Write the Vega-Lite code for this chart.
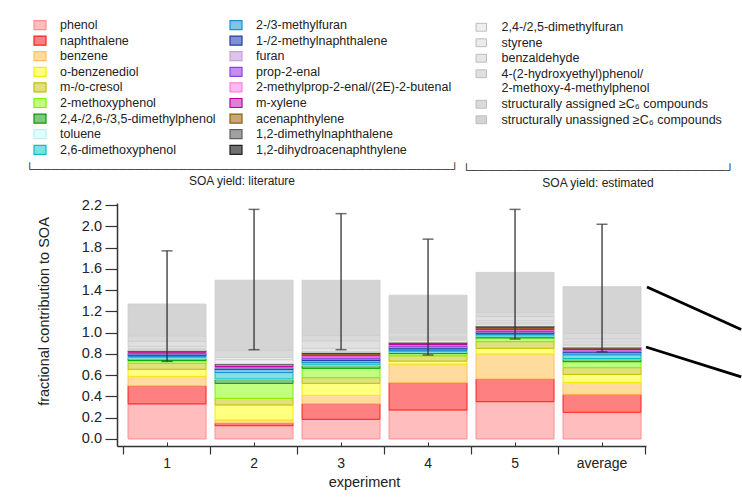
{
  "$schema": "https://vega.github.io/schema/vega-lite/v6.json",
  "width": 529,
  "height": 243,
  "autosize": {"type": "none"},
  "padding": {"left": 117, "top": 203, "right": 96, "bottom": 52},
  "background": "white",
  "config": {
    "view": {"stroke": null},
    "font": "Liberation Sans",
    "axis": {"labelFont": "Liberation Sans", "titleFont": "Liberation Sans", "domainColor": "#333", "tickColor": "#333", "labelColor": "#222", "titleColor": "#222", "grid": false, "titleFontWeight": "normal"},
    "legend": {"labelFont": "Liberation Sans", "titleFont": "Liberation Sans", "labelColor": "#222", "titleColor": "#222", "padding": 0, "labelLimit": 400, "titleLimit": 1000}
  },
  "datasets": {
    "comp": [
      {"c": "ph", "name": "phenol", "k": 1, "g": "lit"},
      {"c": "na", "name": "naphthalene", "k": 2, "g": "lit"},
      {"c": "bz", "name": "benzene", "k": 3, "g": "lit"},
      {"c": "obd", "name": "o-benzenediol", "k": 4, "g": "lit"},
      {"c": "cr", "name": "m-/o-cresol", "k": 5, "g": "lit"},
      {"c": "mp", "name": "2-methoxyphenol", "k": 6, "g": "lit"},
      {"c": "dmp", "name": "2,4-/2,6-/3,5-dimethylphenol", "k": 7, "g": "lit"},
      {"c": "tol", "name": "toluene", "k": 8, "g": "lit"},
      {"c": "dmop", "name": "2,6-dimethoxyphenol", "k": 9, "g": "lit"},
      {"c": "mf", "name": "2-/3-methylfuran", "k": 10, "g": "lit"},
      {"c": "mn", "name": "1-/2-methylnaphthalene", "k": 11, "g": "lit"},
      {"c": "fu", "name": "furan", "k": 12, "g": "lit"},
      {"c": "pr", "name": "prop-2-enal", "k": 13, "g": "lit"},
      {"c": "mpr", "name": "2-methylprop-2-enal/(2E)-2-butenal", "k": 14, "g": "lit"},
      {"c": "mx", "name": "m-xylene", "k": 15, "g": "lit"},
      {"c": "ac", "name": "acenaphthylene", "k": 16, "g": "lit"},
      {"c": "dmn", "name": "1,2-dimethylnaphthalene", "k": 17, "g": "lit"},
      {"c": "dha", "name": "1,2-dihydroacenaphthylene", "k": 18, "g": "lit"},
      {"c": "dmf", "name": "2,4-/2,5-dimethylfuran", "k": 19, "g": "est"},
      {"c": "sty", "name": "styrene", "k": 20, "g": "est"},
      {"c": "bza", "name": "benzaldehyde", "k": 21, "g": "est"},
      {"c": "hep", "name": "4-(2-hydroxyethyl)phenol/2-methoxy-4-methylphenol", "k": 22, "g": "est"},
      {"c": "sa", "name": "structurally assigned ≥C₆ compounds", "k": 23, "g": "est"},
      {"c": "su", "name": "structurally unassigned ≥C₆ compounds", "k": 24, "g": "est"}
    ],
    "yield": [
      {"e": "1", "c": "ph", "v": 0.33}, {"e": "1", "c": "na", "v": 0.17}, {"e": "1", "c": "bz", "v": 0.09}, {"e": "1", "c": "obd", "v": 0.066}, {"e": "1", "c": "cr", "v": 0.056}, {"e": "1", "c": "mp", "v": 0.025}, {"e": "1", "c": "dmp", "v": 0.022}, {"e": "1", "c": "tol", "v": 0.005}, {"e": "1", "c": "dmop", "v": 0.012}, {"e": "1", "c": "mf", "v": 0.012}, {"e": "1", "c": "mn", "v": 0.012}, {"e": "1", "c": "fu", "v": 0.004}, {"e": "1", "c": "pr", "v": 0.008}, {"e": "1", "c": "mpr", "v": 0.004}, {"e": "1", "c": "mx", "v": 0.006}, {"e": "1", "c": "ac", "v": 0.005}, {"e": "1", "c": "dmn", "v": 0.002}, {"e": "1", "c": "dha", "v": 0.001}, {"e": "1", "c": "dmf", "v": 0.01}, {"e": "1", "c": "sty", "v": 0.01}, {"e": "1", "c": "bza", "v": 0.02}, {"e": "1", "c": "hep", "v": 0.05}, {"e": "1", "c": "sa", "v": 0.05}, {"e": "1", "c": "su", "v": 0.30},
      {"e": "2", "c": "ph", "v": 0.125}, {"e": "2", "c": "na", "v": 0.025}, {"e": "2", "c": "bz", "v": 0.03}, {"e": "2", "c": "obd", "v": 0.14}, {"e": "2", "c": "cr", "v": 0.063}, {"e": "2", "c": "mp", "v": 0.14}, {"e": "2", "c": "dmp", "v": 0.037}, {"e": "2", "c": "tol", "v": 0.005}, {"e": "2", "c": "dmop", "v": 0.06}, {"e": "2", "c": "mf", "v": 0.03}, {"e": "2", "c": "mn", "v": 0.012}, {"e": "2", "c": "fu", "v": 0.005}, {"e": "2", "c": "pr", "v": 0.005}, {"e": "2", "c": "mpr", "v": 0.005}, {"e": "2", "c": "mx", "v": 0.02}, {"e": "2", "c": "ac", "v": 0.002}, {"e": "2", "c": "dmn", "v": 0.001}, {"e": "2", "c": "dha", "v": 0.001}, {"e": "2", "c": "dmf", "v": 0.04}, {"e": "2", "c": "sty", "v": 0.023}, {"e": "2", "c": "sa", "v": 0.065}, {"e": "2", "c": "su", "v": 0.66},
      {"e": "3", "c": "ph", "v": 0.185}, {"e": "3", "c": "na", "v": 0.147}, {"e": "3", "c": "bz", "v": 0.079}, {"e": "3", "c": "obd", "v": 0.113}, {"e": "3", "c": "cr", "v": 0.053}, {"e": "3", "c": "mp", "v": 0.088}, {"e": "3", "c": "dmp", "v": 0.028}, {"e": "3", "c": "tol", "v": 0.005}, {"e": "3", "c": "dmop", "v": 0.02}, {"e": "3", "c": "mf", "v": 0.02}, {"e": "3", "c": "mn", "v": 0.015}, {"e": "3", "c": "fu", "v": 0.005}, {"e": "3", "c": "pr", "v": 0.02}, {"e": "3", "c": "mpr", "v": 0.005}, {"e": "3", "c": "mx", "v": 0.01}, {"e": "3", "c": "ac", "v": 0.01}, {"e": "3", "c": "dmn", "v": 0.005}, {"e": "3", "c": "dha", "v": 0.005}, {"e": "3", "c": "dmf", "v": 0.005}, {"e": "3", "c": "sty", "v": 0.005}, {"e": "3", "c": "bza", "v": 0.03}, {"e": "3", "c": "hep", "v": 0.07}, {"e": "3", "c": "sa", "v": 0.05}, {"e": "3", "c": "su", "v": 0.52},
      {"e": "4", "c": "ph", "v": 0.273}, {"e": "4", "c": "na", "v": 0.257}, {"e": "4", "c": "bz", "v": 0.175}, {"e": "4", "c": "obd", "v": 0.028}, {"e": "4", "c": "cr", "v": 0.05}, {"e": "4", "c": "mp", "v": 0.02}, {"e": "4", "c": "dmp", "v": 0.013}, {"e": "4", "c": "tol", "v": 0.005}, {"e": "4", "c": "dmop", "v": 0.012}, {"e": "4", "c": "mf", "v": 0.015}, {"e": "4", "c": "mn", "v": 0.015}, {"e": "4", "c": "fu", "v": 0.005}, {"e": "4", "c": "pr", "v": 0.015}, {"e": "4", "c": "mpr", "v": 0.005}, {"e": "4", "c": "mx", "v": 0.01}, {"e": "4", "c": "ac", "v": 0.005}, {"e": "4", "c": "dmn", "v": 0.003}, {"e": "4", "c": "dha", "v": 0.003}, {"e": "4", "c": "dmf", "v": 0.02}, {"e": "4", "c": "sty", "v": 0.01}, {"e": "4", "c": "bza", "v": 0.01}, {"e": "4", "c": "hep", "v": 0.01}, {"e": "4", "c": "sa", "v": 0.04}, {"e": "4", "c": "su", "v": 0.354},
      {"e": "5", "c": "ph", "v": 0.351}, {"e": "5", "c": "na", "v": 0.214}, {"e": "5", "c": "bz", "v": 0.235}, {"e": "5", "c": "obd", "v": 0.053}, {"e": "5", "c": "cr", "v": 0.063}, {"e": "5", "c": "mp", "v": 0.035}, {"e": "5", "c": "dmp", "v": 0.013}, {"e": "5", "c": "tol", "v": 0.005}, {"e": "5", "c": "dmop", "v": 0.015}, {"e": "5", "c": "mf", "v": 0.01}, {"e": "5", "c": "mn", "v": 0.012}, {"e": "5", "c": "fu", "v": 0.005}, {"e": "5", "c": "pr", "v": 0.012}, {"e": "5", "c": "mpr", "v": 0.005}, {"e": "5", "c": "mx", "v": 0.01}, {"e": "5", "c": "ac", "v": 0.01}, {"e": "5", "c": "dmn", "v": 0.007}, {"e": "5", "c": "dha", "v": 0.007}, {"e": "5", "c": "dmf", "v": 0.02}, {"e": "5", "c": "sty", "v": 0.01}, {"e": "5", "c": "bza", "v": 0.02}, {"e": "5", "c": "hep", "v": 0.04}, {"e": "5", "c": "sa", "v": 0.04}, {"e": "5", "c": "su", "v": 0.375},
      {"e": "average", "c": "ph", "v": 0.251}, {"e": "average", "c": "na", "v": 0.169}, {"e": "average", "c": "bz", "v": 0.113}, {"e": "average", "c": "obd", "v": 0.075}, {"e": "average", "c": "cr", "v": 0.063}, {"e": "average", "c": "mp", "v": 0.056}, {"e": "average", "c": "dmp", "v": 0.025}, {"e": "average", "c": "tol", "v": 0.005}, {"e": "average", "c": "dmop", "v": 0.035}, {"e": "average", "c": "mf", "v": 0.02}, {"e": "average", "c": "mn", "v": 0.01}, {"e": "average", "c": "fu", "v": 0.005}, {"e": "average", "c": "pr", "v": 0.01}, {"e": "average", "c": "mpr", "v": 0.005}, {"e": "average", "c": "mx", "v": 0.01}, {"e": "average", "c": "ac", "v": 0.005}, {"e": "average", "c": "dmn", "v": 0.003}, {"e": "average", "c": "dha", "v": 0.003}, {"e": "average", "c": "dmf", "v": 0.02}, {"e": "average", "c": "sty", "v": 0.01}, {"e": "average", "c": "bza", "v": 0.02}, {"e": "average", "c": "hep", "v": 0.03}, {"e": "average", "c": "sa", "v": 0.05}, {"e": "average", "c": "su", "v": 0.44}
    ],
    "err": [
      {"e": "1", "lo": 0.73, "hi": 1.77},
      {"e": "2", "lo": 0.84, "hi": 2.16},
      {"e": "3", "lo": 0.84, "hi": 2.12},
      {"e": "4", "lo": 0.79, "hi": 1.88},
      {"e": "5", "lo": 0.94, "hi": 2.16},
      {"e": "average", "lo": 0.82, "hi": 2.02}
    ],
    "lines": [
      {"x": 6.017, "y": 1.43, "x2": 7.1, "y2": 1.03},
      {"x": 6.006, "y": 0.865, "x2": 7.1, "y2": 0.585}
    ]
  },
  "layer": [
    {
      "data": {"name": "yield"},
      "transform": [
        {"lookup": "c", "from": {"data": {"name": "comp"}, "key": "c", "fields": ["name", "k", "g"]}},
        {"stack": "v", "groupby": ["e"], "sort": [{"field": "k", "order": "ascending"}], "as": ["y0", "y1"]},
        {"filter": "datum.g == 'lit'"}
      ],
      "mark": {"type": "bar", "strokeWidth": 1},
      "encoding": {
        "x": {"field": "e", "type": "nominal", "sort": ["1", "2", "3", "4", "5", "average"], "scale": {"paddingInner": 0.1034, "paddingOuter": 0.092, "align": 0.69},
          "axis": {"orient": "bottom", "title": "experiment", "labelAngle": 0, "labelFontSize": 14, "ticks": true, "tickSize": -4, "tickWidth": 1, "domain": false, "labelPadding": 14, "titleFontSize": 14.5, "titlePadding": 5, "titleX": 247}},
        "y": {"field": "y0", "type": "quantitative", "scale": {"domain": [-0.066, 2.22], "nice": false, "zero": false},
          "axis": {"orient": "left", "title": "fractional contribution to SOA", "values": [0, 0.2, 0.4, 0.6, 0.8, 1.0, 1.2, 1.4, 1.6, 1.8, 2.0, 2.2], "format": ".1f", "labelOverlap": false, "tickSize": 12, "tickWidth": 1.2, "domainWidth": 1.5, "labelFontSize": 14.5, "labelPadding": 3.5, "titleFontSize": 14.5, "titleX": -66, "titleY": 108}},
        "y2": {"field": "y1"},
        "color": {"field": "name", "type": "nominal",
          "scale": {
            "domain": ["phenol", "naphthalene", "benzene", "o-benzenediol", "m-/o-cresol", "2-methoxyphenol", "2,4-/2,6-/3,5-dimethylphenol", "toluene", "2,6-dimethoxyphenol", "2-/3-methylfuran", "1-/2-methylnaphthalene", "furan", "prop-2-enal", "2-methylprop-2-enal/(2E)-2-butenal", "m-xylene", "acenaphthylene", "1,2-dimethylnaphthalene", "1,2-dihydroacenaphthylene"],
            "range": ["#ffbdbd", "#ff8080", "#ffdc9e", "#ffff80", "#e0e080", "#c0ff80", "#80c880", "#e0ffff", "#80e0e0", "#80c4e8", "#8090d0", "#dcc4ec", "#c090f0", "#ffb8f0", "#e080d0", "#c8a878", "#a0a0a0", "#707070"]
          },
          "legend": {"orient": "none", "legendX": -92, "legendY": -185, "columns": 2, "columnPadding": 11, "rowPadding": 1.6,
            "symbolType": "M-1,-0.75H1V0.75H-1Z", "symbolSize": 144, "symbolStrokeWidth": 1.2, "labelFontSize": 12.5, "labelOffset": 13,
            "title": ["└─────────────────────────────────────────────────┘", "SOA yield: literature"],
            "titleOrient": "bottom", "titleAnchor": "middle", "titleAlign": "center", "titleFontSize": 12, "titleFontWeight": "normal", "titleLineHeight": 12.5, "titlePadding": 6.7}
        },
        "stroke": {"field": "name", "type": "nominal",
          "scale": {
            "domain": ["phenol", "naphthalene", "benzene", "o-benzenediol", "m-/o-cresol", "2-methoxyphenol", "2,4-/2,6-/3,5-dimethylphenol", "toluene", "2,6-dimethoxyphenol", "2-/3-methylfuran", "1-/2-methylnaphthalene", "furan", "prop-2-enal", "2-methylprop-2-enal/(2E)-2-butenal", "m-xylene", "acenaphthylene", "1,2-dimethylnaphthalene", "1,2-dihydroacenaphthylene"],
            "range": ["#ff8f8f", "#ff2020", "#ffbf5a", "#f0f000", "#c0c000", "#80f000", "#00a000", "#c0f0f0", "#00c0c0", "#1a90d0", "#2040a0", "#c8a0e0", "#9040e0", "#ff80e0", "#c000a0", "#906000", "#606060", "#202020"]
          }
        }
      }
    },
    {
      "data": {"name": "yield"},
      "transform": [
        {"lookup": "c", "from": {"data": {"name": "comp"}, "key": "c", "fields": ["name", "k", "g"]}},
        {"stack": "v", "groupby": ["e"], "sort": [{"field": "k", "order": "ascending"}], "as": ["y0", "y1"]},
        {"filter": "datum.g == 'est'"}
      ],
      "mark": {"type": "bar", "stroke": "#cdcdcd", "strokeWidth": 0.8},
      "encoding": {
        "x": {"field": "e", "type": "nominal", "sort": ["1", "2", "3", "4", "5", "average"], "scale": {"paddingInner": 0.1034, "paddingOuter": 0.092, "align": 0.69}, "axis": null},
        "y": {"field": "y0", "type": "quantitative", "scale": {"domain": [-0.066, 2.22], "nice": false, "zero": false},
          "axis": {"orient": "left", "title": "fractional contribution to SOA", "values": [0, 0.2, 0.4, 0.6, 0.8, 1.0, 1.2, 1.4, 1.6, 1.8, 2.0, 2.2], "format": ".1f", "labelOverlap": false, "tickSize": 12, "tickWidth": 1.2, "domainWidth": 1.5, "labelFontSize": 14.5, "labelPadding": 3.5, "titleFontSize": 14.5, "titleX": -66, "titleY": 108}},
        "y2": {"field": "y1"},
        "fill": {"field": "name", "type": "nominal",
          "scale": {
            "domain": ["2,4-/2,5-dimethylfuran", "styrene", "benzaldehyde", "4-(2-hydroxyethyl)phenol/2-methoxy-4-methylphenol", "structurally assigned ≥C₆ compounds", "structurally unassigned ≥C₆ compounds"],
            "range": ["#efefef", "#ebebeb", "#e6e6e6", "#e0e0e0", "#dadada", "#d4d4d4"]
          },
          "legend": {"orient": "none", "legendX": 345, "legendY": -182, "rowPadding": 2.5,
            "symbolType": "M-1,-0.75H1V0.75H-1Z", "symbolSize": 110, "symbolStrokeColor": "#bdbdbd", "symbolStrokeWidth": 1, "labelFontSize": 12.5, "labelOffset": 14,
            "labelExpr": "indexof(datum.label, 'hydroxyethyl') >= 0 ? ['4-(2-hydroxyethyl)phenol/', '2-methoxy-4-methylphenol'] : datum.label",
            "title": ["└──────────────────────────────┘", "SOA yield: estimated"],
            "titleOrient": "bottom", "titleAnchor": "middle", "titleAlign": "center", "titleFontSize": 12, "titleFontWeight": "normal", "titleLineHeight": 12.5, "titlePadding": 39}
        }
      }
    },
    {
      "data": {"name": "err"},
      "mark": {"type": "rule", "color": "#333", "strokeWidth": 1.3},
      "encoding": {
        "x": {"field": "e", "type": "nominal", "sort": ["1", "2", "3", "4", "5", "average"], "scale": {"paddingInner": 0.1034, "paddingOuter": 0.092, "align": 0.69}, "axis": null},
        "y": {"field": "lo", "type": "quantitative", "scale": {"domain": [-0.066, 2.22], "nice": false, "zero": false},
          "axis": {"orient": "left", "title": "fractional contribution to SOA", "values": [0, 0.2, 0.4, 0.6, 0.8, 1.0, 1.2, 1.4, 1.6, 1.8, 2.0, 2.2], "format": ".1f", "labelOverlap": false, "tickSize": 12, "tickWidth": 1.2, "domainWidth": 1.5, "labelFontSize": 14.5, "labelPadding": 3.5, "titleFontSize": 14.5, "titleX": -66, "titleY": 108}},
        "y2": {"field": "hi"}
      }
    },
    {
      "data": {"name": "err"},
      "mark": {"type": "tick", "color": "#333", "thickness": 1.5, "size": 11},
      "encoding": {
        "x": {"field": "e", "type": "nominal", "sort": ["1", "2", "3", "4", "5", "average"], "scale": {"paddingInner": 0.1034, "paddingOuter": 0.092, "align": 0.69}, "axis": null},
        "y": {"field": "hi", "type": "quantitative", "scale": {"domain": [-0.066, 2.22], "nice": false, "zero": false},
          "axis": {"orient": "left", "title": "fractional contribution to SOA", "values": [0, 0.2, 0.4, 0.6, 0.8, 1.0, 1.2, 1.4, 1.6, 1.8, 2.0, 2.2], "format": ".1f", "labelOverlap": false, "tickSize": 12, "tickWidth": 1.2, "domainWidth": 1.5, "labelFontSize": 14.5, "labelPadding": 3.5, "titleFontSize": 14.5, "titleX": -66, "titleY": 108}}
      }
    },
    {
      "data": {"name": "err"},
      "mark": {"type": "tick", "color": "#333", "thickness": 1.5, "size": 11},
      "encoding": {
        "x": {"field": "e", "type": "nominal", "sort": ["1", "2", "3", "4", "5", "average"], "scale": {"paddingInner": 0.1034, "paddingOuter": 0.092, "align": 0.69}, "axis": null},
        "y": {"field": "lo", "type": "quantitative", "scale": {"domain": [-0.066, 2.22], "nice": false, "zero": false},
          "axis": {"orient": "left", "title": "fractional contribution to SOA", "values": [0, 0.2, 0.4, 0.6, 0.8, 1.0, 1.2, 1.4, 1.6, 1.8, 2.0, 2.2], "format": ".1f", "labelOverlap": false, "tickSize": 12, "tickWidth": 1.2, "domainWidth": 1.5, "labelFontSize": 14.5, "labelPadding": 3.5, "titleFontSize": 14.5, "titleX": -66, "titleY": 108}}
      }
    },
    {
      "data": {"name": "lines"},
      "mark": {"type": "rule", "color": "black", "strokeWidth": 2.8},
      "encoding": {
        "x": {"field": "x", "type": "quantitative", "scale": {"domain": [-0.0747, 6.0058], "nice": false, "zero": false},
          "axis": {"orient": "bottom", "values": [0, 1, 2, 3, 4, 5, 6], "labels": false, "title": null, "tickSize": 8, "tickWidth": 1.2, "domainWidth": 1.5, "grid": false}},
        "x2": {"field": "x2"},
        "y": {"field": "y", "type": "quantitative", "scale": {"domain": [-0.066, 2.22], "nice": false, "zero": false},
          "axis": {"orient": "left", "title": "fractional contribution to SOA", "values": [0, 0.2, 0.4, 0.6, 0.8, 1.0, 1.2, 1.4, 1.6, 1.8, 2.0, 2.2], "format": ".1f", "labelOverlap": false, "tickSize": 12, "tickWidth": 1.2, "domainWidth": 1.5, "labelFontSize": 14.5, "labelPadding": 3.5, "titleFontSize": 14.5, "titleX": -66, "titleY": 108}},
        "y2": {"field": "y2"}
      }
    }
  ],
  "resolve": {"scale": {"x": "independent"}}
}
